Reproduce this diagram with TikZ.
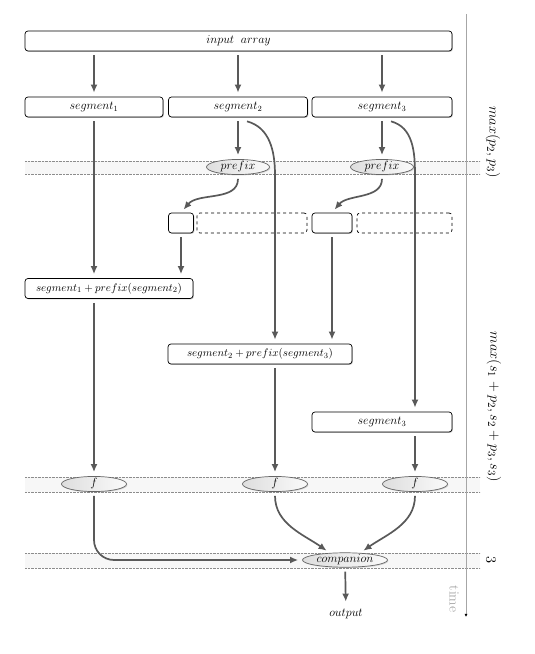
\documentclass[tikz,border=0pt]{standalone}
\usetikzlibrary{positioning,arrows.meta,shapes.geometric,shadows,calc}

\begin{document}
\begin{tikzpicture}[x=1pt,y=1pt,
segbox/.style={draw,rounded corners=3pt,fill=white,line width=0.7pt,minimum height=20pt,inner sep=0pt,
  font=\fontsize{12}{14}\selectfont,drop shadow={shadow xshift=0.9pt,shadow yshift=-0.9pt,opacity=0.45}},
dashbox/.style={draw,dashed,rounded corners=3pt,line width=0.7pt,minimum height=20pt,inner sep=0pt},
opnode/.style={ellipse,draw=black!60,line width=0.7pt,left color=black!13,right color=black!2,inner sep=0pt,
  font=\fontsize{12}{14}\selectfont,drop shadow={shadow xshift=0.9pt,shadow yshift=-0.9pt,opacity=0.3}},
flow/.style={draw=black!65,line width=1.7pt,-{Latex[length=8pt,width=7pt]},shorten >=4pt,shorten <=4pt},
bandline/.style={black!45,densely dotted,line width=0.4pt},
side/.style={rotate=-90,font=\fontsize{15}{17}\selectfont}]
\useasboundingbox (0,0) rectangle (535,654);

% time bands
\foreach \lo/\hi in {480/493,162/177,86/101}{
  \fill[black!3] (25,\lo) rectangle (480,\hi);
  \draw[bandline] (25,\lo) -- (480,\lo);
  \draw[bandline] (25,\hi) -- (480,\hi);
}

% time axis
\coordinate (t0) at (466,640);
\coordinate (t1) at (466,37);
\draw[black!35,line width=1pt,-{Latex[length=3pt,width=3pt,color=black]}] (t0) -- (t1);
\node[rotate=-90,text=black!35,font=\fontsize{14}{16}\selectfont] (tlbl) at (454,55) {time};
\node[side] (c1lbl) at (493,512) {$max(p_2, p_3)$};
\node[side] (c2lbl) at (494,247) {$max(s_1+p_2, s_2+p_3, s_3)$};
\node[side] (c3lbl) at (491,94) {$3$};

% nodes
\node[segbox,minimum width=427pt] (input) at (238.5,613) {$input\;\;array$};
\node[segbox,minimum width=138pt] (seg1) at (94,547) {$segment_1$};
\node[segbox,minimum width=139pt] (seg2) at (238,547) {$segment_2$};
\node[segbox,minimum width=140pt] (seg3) at (382,547) {$segment_3$};
\node[opnode,minimum width=63pt,minimum height=13pt] (pre2) at (238,487) {$prefix$};
\node[opnode,minimum width=63pt,minimum height=13pt] (pre3) at (382,487) {$prefix$};
\node[segbox,minimum width=25pt] (sm1) at (181,431) {};
\node[dashbox,minimum width=110pt] (dm1) at (252,431) {};
\node[segbox,minimum width=40pt] (sm2) at (332,431) {};
\node[dashbox,minimum width=95pt] (dm2) at (404.5,431) {};
\node[segbox,minimum width=168pt,font=\fontsize{11}{13}\selectfont] (sp1) at (109,365.5) {$segment_1+prefix(segment_2)$};
\node[segbox,minimum width=184pt,font=\fontsize{11}{13}\selectfont] (sp2) at (260,300) {$segment_2+prefix(segment_3)$};
\node[segbox,minimum width=140pt] (seg3b) at (382,232) {$segment_3$};
\node[opnode,minimum width=65pt,minimum height=15pt] (f1) at (94,170) {$f$};
\node[opnode,minimum width=65pt,minimum height=15pt] (f2) at (275,170) {$f$};
\node[opnode,minimum width=65pt,minimum height=15pt] (f3) at (415,170) {$f$};
\node[opnode,minimum width=85pt,minimum height=14pt] (comp) at (345,94) {$companion$};
\node[font=\fontsize{12}{14}\selectfont] (out) at (346,40) {$output$};
\coordinate (c2) at ($(sp2.north)+(15,0)$);
\coordinate (c3) at ($(seg3b.north)+(33,0)$);

% connectors
\draw[flow] (input.south -| seg1.north) -- (seg1.north);
\draw[flow] (input.south -| seg2.north) -- (seg2.north);
\draw[flow] (input.south -| seg3.north) -- (seg3.north);
\draw[flow] (seg2) -- (pre2);
\draw[flow] (seg3) -- (pre3);
\draw[flow] (pre2.south) to[out=-90,in=50] (sm1.north);
\draw[flow] (pre3.south) to[out=-90,in=50] (sm2.north);
\draw[flow,shorten <=0pt] ([xshift=9pt,yshift=-4pt]seg2.south) to[out=-15,in=90] (c2 |- pre2.south) -- (c2);
\draw[flow,shorten <=0pt] ([xshift=9pt,yshift=-4pt]seg3.south) to[out=-15,in=90] (c3 |- pre3.south) -- (c3);
\draw[flow] (seg1) -- (seg1 |- sp1.north);
\draw[flow] (sm1) -- (sm1 |- sp1.north);
\draw[flow] (sm2) -- (sm2 |- sp2.north);
\draw[flow] (sp1.south -| f1) -- (f1);
\draw[flow] (f2 |- sp2.south) -- (f2);
\draw[flow] (f3 |- seg3b.south) -- (f3);
\draw[flow,rounded corners=20pt] (f1) |- (comp);
\draw[flow] (f2) to[out=-90,in=145] (comp.155);
\draw[flow] (f3) to[out=-90,in=35] (comp.25);
\draw[flow] (comp) -- (out);
\end{tikzpicture}
\end{document}
